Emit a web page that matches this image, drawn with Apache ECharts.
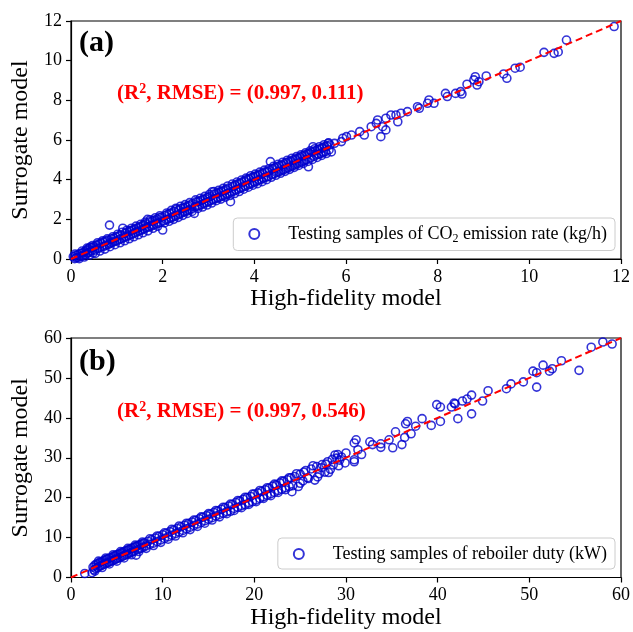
<!DOCTYPE html>
<html>
<head>
<meta charset="utf-8">
<script src="https://cdn.jsdelivr.net/npm/echarts@6/dist/echarts.min.js"></script>
<style>html,body{margin:0;padding:0;background:#fff}#c{width:633px;height:632px}</style>
</head>
<body>
<div id="c"></div>
<script>
// ---- Data ----
var ticksA = [0, 2, 4, 6, 8, 10, 12];
var ticksB = [0, 10, 20, 30, 40, 50, 60];
var labelA = '(a)';
var labelB = '(b)';
var metricsA = ['0.997', '0.111'];
var metricsB = ['0.997', '0.546'];
var parityA = [[0, 0], [12, 12]];
var parityB = [[0, 0], [60, 60]];

// Panel (a): CO2 emission rate, [high-fidelity, surrogate]
var samplesA = [
[0.05,0.12],[0.08,0.02],[0.10,0.18],[0.12,0.06],[0.15,0.22],[0.17,0.10],[0.20,0.28],[0.22,0.14],[0.25,0.31],[0.27,0.19],
[0.30,0.37],[0.32,0.22],[0.34,0.45],[0.36,0.30],[0.38,0.52],[0.40,0.33],[0.42,0.60],[0.44,0.41],[0.46,0.58],[0.48,0.30],
[0.50,0.62],[0.52,0.45],[0.55,0.70],[0.57,0.52],[0.60,0.75],[0.62,0.55],[0.65,0.80],[0.67,0.62],[0.70,0.86],[0.72,0.64],
[0.75,0.90],[0.77,0.70],[0.80,0.95],[0.82,0.74],[0.84,1.71],[0.86,0.80],[0.88,1.02],[0.90,0.84],[0.93,1.05],[0.95,0.88],
[0.98,1.12],[1.00,0.92],[1.03,1.15],[1.05,0.98],[1.08,1.22],[1.10,1.02],[1.13,1.55],[1.15,1.08],[1.18,1.30],[1.20,1.12],
[1.23,1.36],[1.25,1.17],[1.28,1.42],[1.30,1.22],[1.33,1.45],[1.35,1.27],[1.38,1.50],[1.40,1.32],[1.43,1.55],[1.45,1.38],
[1.48,1.60],[1.50,1.42],[1.53,1.65],[1.55,1.47],[1.58,1.72],[1.60,1.52],[1.63,1.78],[1.65,1.58],[1.67,2.00],[1.70,1.62],
[1.72,1.88],[1.75,1.66],[1.78,1.92],[1.80,1.72],[1.83,1.97],[1.85,1.76],[1.88,2.02],[1.90,1.80],[1.93,2.08],[1.95,1.85],
[1.98,2.12],[2.00,1.46],[2.02,1.92],[2.05,2.18],[2.08,1.98],[2.10,2.24],[2.13,2.02],[2.15,2.30],[2.18,2.08],[2.20,2.33],
[2.23,2.12],[2.25,2.40],[2.28,2.18],[2.30,2.52],[2.33,2.22],[2.35,2.46],[2.38,2.28],[2.40,2.55],[2.43,2.34],[2.45,2.58],
[2.48,2.38],[2.50,2.62],[2.53,2.42],[2.55,2.68],[2.58,2.48],[2.60,2.72],[2.63,2.52],[2.65,2.80],[2.69,2.30],[2.70,2.62],
[2.73,2.88],[2.75,2.66],[2.78,2.90],[2.80,2.70],[2.83,2.95],[2.85,2.74],[2.88,3.00],[2.90,2.80],[2.93,3.04],[2.95,2.84],
[2.98,3.10],[3.00,2.90],[3.03,3.15],[3.05,2.94],[3.08,3.39],[3.10,3.00],[3.13,3.28],[3.15,3.04],[3.18,3.32],[3.20,3.08],
[3.23,3.36],[3.25,3.12],[3.28,3.40],[3.30,3.18],[3.33,3.45],[3.35,3.22],[3.38,3.50],[3.40,3.28],[3.43,3.56],[3.45,3.32],
[3.48,2.89],[3.50,3.38],[3.53,3.66],[3.55,3.42],[3.58,3.72],[3.60,3.48],[3.63,3.78],[3.65,3.52],[3.68,3.82],[3.70,3.58],
[3.73,3.88],[3.75,3.62],[3.78,3.92],[3.80,3.68],[3.83,4.00],[3.85,3.72],[3.88,4.04],[3.90,3.78],[3.93,4.10],[3.95,3.82],
[3.98,4.14],[4.00,3.88],[4.03,4.18],[4.05,3.92],[4.08,4.22],[4.10,3.98],[4.13,4.28],[4.15,4.02],[4.18,4.32],[4.20,4.08],
[4.23,4.38],[4.25,4.12],[4.28,4.40],[4.30,4.16],[4.35,4.91],[4.33,4.46],[4.38,4.25],[4.40,4.56],[4.43,4.30],[4.45,4.60],
[4.48,4.35],[4.50,4.65],[4.53,4.40],[4.55,4.70],[4.58,4.44],[4.60,4.74],[4.63,4.50],[4.65,4.80],[4.68,4.54],[4.70,4.86],
[4.73,4.60],[4.75,4.90],[4.78,4.64],[4.80,4.94],[4.83,4.70],[4.85,5.00],[4.88,4.74],[4.90,5.04],[4.93,4.80],[4.95,5.08],
[4.98,4.84],[5.00,5.14],[5.03,4.90],[5.05,5.20],[5.08,4.94],[5.10,5.24],[5.13,5.00],[5.15,5.30],[5.18,4.65],[5.20,5.34],
[5.23,5.10],[5.25,5.40],[5.28,5.66],[5.30,5.18],[5.33,5.45],[5.35,5.24],[5.38,5.52],[5.40,5.28],[5.43,5.56],[5.45,5.32],
[5.48,5.60],[5.50,5.38],[5.53,5.66],[5.55,5.42],[5.58,5.70],[5.61,5.83],[5.63,5.50],[5.65,5.75],[5.75,5.83],[5.90,5.92],
[5.93,6.09],[6.01,6.17],[6.12,6.25],[6.30,6.42],[6.40,6.25],[6.55,6.67],[6.66,6.84],[6.69,7.01],[6.76,6.17],[6.80,6.67],
[6.87,7.10],[6.87,6.51],[6.98,7.26],[7.09,7.26],[7.13,6.92],[7.20,7.35],[7.34,7.43],[7.56,7.68],[7.60,7.60],[7.78,7.85],
[7.81,8.02],[7.92,7.85],[8.17,8.35],[8.21,8.19],[8.39,8.35],[8.50,8.44],[8.53,8.32],[8.64,8.81],[8.79,9.03],[8.82,9.19],
[8.86,8.77],[8.90,8.94],[9.06,9.23],[9.44,9.33],[9.51,9.11],[9.69,9.62],[9.80,9.67],[10.32,10.42],[10.54,10.37],[10.63,10.44],
[10.81,11.04],[11.85,11.72],
[0.09,0.25],[0.18,0.02],[0.24,0.40],[0.29,0.10],[0.35,0.55],[0.41,0.20],[0.47,0.68],[0.53,0.28],[0.58,0.82],[0.63,0.40],
[0.69,0.92],[0.74,0.50],[0.79,1.02],[0.85,0.62],[0.91,1.12],[0.96,0.72],[1.02,1.25],[1.07,0.82],[1.12,1.35],[1.17,0.92],
[1.22,1.45],[1.27,1.02],[1.32,1.55],[1.37,1.12],[1.42,1.66],[1.47,1.22],[1.52,1.75],[1.57,1.32],[1.62,1.86],[1.68,1.42],
[1.73,1.98],[1.79,1.55],[1.84,2.08],[1.89,1.65],[1.94,2.18],[2.04,1.82],[2.09,2.32],[2.14,1.90],[2.19,2.45],[2.24,2.00],
[2.29,2.56],[2.34,2.10],[2.39,2.66],[2.44,2.20],[2.49,2.74],[2.54,2.30],[2.59,2.84],[2.64,2.40],[2.72,2.98],[2.77,2.55],
[2.82,3.06],[2.87,2.62],[2.92,3.16],[2.97,2.72],[3.02,3.26],[3.07,2.82],[3.12,3.40],[3.17,2.94],[3.22,3.46],[3.27,3.02],
[3.32,3.56],[3.37,3.12],[3.42,3.68],[3.47,3.20],[3.52,3.78],[3.57,3.30],[3.62,3.88],[3.67,3.40],[3.72,3.98],[3.77,3.52],
[3.82,4.08],[3.87,3.62],[3.92,4.20],[3.97,3.72],[4.02,4.28],[4.07,3.80],[4.12,4.38],[4.17,3.90],[4.22,4.48],[4.27,4.00],
[4.32,4.55],[4.37,4.12],[4.42,4.68],[4.47,4.22],[4.52,4.78],[4.57,4.32],[4.62,4.88],[4.67,4.42],[4.72,4.98],[4.77,4.52],
[4.82,5.08],[4.87,4.62],[4.92,5.16],[4.97,4.72],[5.02,5.26],[5.07,4.82],[5.12,5.36],[5.17,4.92],[5.22,5.46],[5.27,5.02],
[5.32,5.56],[5.37,5.12],[5.42,5.66],[5.47,5.22],[5.52,5.76],[5.57,5.32],[5.62,5.86],[5.68,5.40]
];

// Panel (b): reboiler duty, [high-fidelity, surrogate]
var samplesB = [
[1.5,1.0],[2.3,1.2],[2.4,2.6],[2.5,1.9],[2.6,3.1],[2.7,2.2],[2.8,3.4],[2.9,2.5],[3.0,3.6],[3.1,2.8],
[3.2,3.9],[3.3,3.0],[3.4,4.0],[3.5,3.2],[3.6,4.3],[3.7,3.4],[3.8,4.5],[3.9,3.6],[4.0,4.7],[4.1,3.8],
[4.2,4.9],[4.3,4.0],[4.4,5.0],[4.5,4.2],[4.6,5.3],[4.7,4.4],[4.8,5.5],[4.9,4.6],[5.0,5.7],[5.1,4.8],
[5.2,5.9],[5.3,5.0],[5.4,6.1],[5.5,5.2],[5.6,6.3],[5.7,5.4],[5.8,6.5],[5.9,5.6],[6.0,6.7],[6.1,5.8],
[6.2,6.9],[6.3,6.0],[6.4,7.1],[6.5,6.2],[6.6,7.3],[6.7,6.4],[6.8,7.5],[6.9,6.6],[7.0,7.7],[7.1,5.6],
[7.2,7.9],[7.3,7.0],[7.4,8.1],[7.5,7.2],[7.6,8.3],[7.7,7.4],[7.8,8.5],[7.9,7.6],[8.0,8.7],[8.2,7.9],
[8.4,9.1],[8.6,8.3],[8.8,9.5],[9.0,8.6],[9.2,9.9],[9.4,9.0],[9.6,10.3],[9.8,9.4],[10.0,10.7],[10.2,9.8],
[10.4,11.1],[10.6,10.2],[10.8,11.5],[11.0,10.6],[11.2,11.9],[11.4,11.0],[11.6,12.3],[11.8,11.4],[12.0,12.7],[12.2,11.8],
[12.4,13.1],[12.6,12.2],[12.8,13.5],[13.0,12.6],[13.2,13.9],[13.4,13.0],[13.6,14.3],[13.8,13.4],[14.0,14.7],[14.2,13.8],
[14.4,15.1],[14.6,14.2],[14.8,15.5],[15.0,14.6],[15.2,15.9],[15.4,15.0],[15.6,16.3],[15.8,15.4],[16.0,16.7],[16.2,15.8],
[16.4,17.1],[16.6,16.1],[16.8,17.5],[17.0,16.5],[17.2,17.9],[17.4,16.6],[17.6,18.3],[17.8,17.3],[18.0,18.8],[18.2,17.6],
[18.4,19.2],[18.6,18.0],[18.8,19.6],[19.0,18.2],[19.2,20.0],[19.4,18.7],[19.6,20.3],[19.8,19.0],[20.0,20.9],[20.2,19.4],
[20.4,21.2],[20.6,19.8],[20.8,21.6],[21.0,20.2],[21.2,22.0],[21.4,20.6],[21.6,22.4],[21.8,21.0],[22.0,22.9],[22.2,21.3],
[22.4,23.2],[22.6,21.8],[22.8,23.7],[23.0,22.1],[23.2,24.1],[23.4,22.5],[23.6,24.5],[23.8,22.8],[24.0,25.0],[24.1,21.5],
[24.4,25.3],[24.8,22.8],[25.0,25.9],[25.3,24.2],[25.6,26.8],[25.9,24.8],[26.2,27.2],[26.6,24.4],[26.8,27.8],[27.1,26.0],
[27.4,28.3],[27.7,26.4],[28.0,29.0],[28.3,27.1],[28.8,30.7],[28.5,29.6],[29.2,28.0],[29.5,30.2],[29.0,29.9],[29.1,30.8],
[29.9,28.7],[30.0,31.2],[30.9,29.5],[30.9,29.0],[31.7,30.8],[31.3,32.0],[30.9,33.7],[31.1,34.5],[32.6,34.0],[32.9,33.3],
[33.8,32.6],[33.8,33.5],[34.7,34.5],[35.1,32.5],[36.1,33.3],[36.4,35.1],[37.1,36.0],[35.4,36.5],[36.5,38.5],[36.7,39.1],
[37.6,37.9],[38.3,39.8],[39.3,38.1],[40.3,39.1],[39.9,43.3],[40.3,42.7],[41.9,43.5],[41.5,42.7],[41.8,43.7],[42.2,39.8],
[43.7,41.0],[42.7,44.2],[43.2,44.7],[43.7,45.7],[44.9,44.2],[45.5,46.8],[47.5,47.3],[48.0,48.5],[49.35,49.0],[50.8,47.7],
[50.4,51.7],[50.8,51.3],[51.5,53.2],[52.2,51.7],[52.5,52.3],[53.5,54.3],[55.42,51.9],[56.75,57.7],[58.02,59.0],[59.03,58.5],
[2.6,1.6],[3.0,4.1],[3.4,2.5],[3.8,4.9],[4.2,3.4],[4.6,5.7],[5.0,4.1],[5.4,6.5],[5.8,4.9],[6.2,7.3],
[6.6,5.7],[7.0,8.1],[7.4,6.5],[7.8,8.9],[8.2,7.3],[8.6,9.7],[9.0,8.0],[9.4,10.4],[9.8,8.8],[10.2,11.2],
[10.6,9.6],[11.0,12.1],[11.4,10.4],[11.8,12.9],[12.2,11.2],[12.6,13.6],[13.0,12.0],[13.4,14.4],[13.8,12.8],[14.2,15.2],
[14.6,13.6],[15.0,16.0],[15.4,14.4],[15.8,16.8],[16.2,15.2],[16.6,17.6],[17.0,16.0],[17.4,18.4],[17.8,16.8],[18.2,19.3],
[18.6,17.5],[19.0,20.1],[19.4,18.3],[19.8,20.9],[20.2,19.0],[20.6,21.8],[21.0,19.8],[21.4,22.5],[21.8,20.5],[22.2,23.4],
[22.6,21.3],[23.0,24.2],[23.4,22.0],[23.8,25.0],[24.2,23.0],[24.6,26.0],[25.0,23.6],[25.4,26.4],[25.8,25.0],[26.4,28.0],
[26.9,25.2],[27.3,27.5],[27.8,28.4],[28.1,26.3],[28.6,28.2],[29.3,29.4]
];

var labelTextA = 'Testing samples of CO{sub|2} emission rate (kg/h)';
var labelTextB = 'Testing samples of reboiler duty (kW)';
var xName = 'High-fidelity model';
var yName = 'Surrogate model';

// ---- Chart ----
var FONT = "'Liberation Serif', 'Times New Roman', serif";
var chart = echarts.init(document.getElementById('c'), null, {renderer: 'canvas'});

function valueAxis(idx, ticks, isX) {
  var n = ticks.length;
  return {
    type: 'value', gridIndex: idx,
    min: ticks[0], max: ticks[n - 1], interval: ticks[1] - ticks[0],
    name: isX ? xName : yName,
    nameLocation: 'middle',
    nameGap: isX ? 28 : 35,
    nameTextStyle: {fontFamily: FONT, fontSize: 24, color: '#000'},
    axisLine: {show: true, onZero: false, lineStyle: {color: '#000', width: 1.2}},
    axisTick: {show: true, inside: false, length: 5, lineStyle: {color: '#000', width: 1.2}},
    axisLabel: {fontFamily: FONT, fontSize: 18, color: '#000', margin: 9},
    splitLine: {show: false}
  };
}

function scatter(idx, name, data) {
  return {
    type: 'scatter', name: name, xAxisIndex: idx, yAxisIndex: idx,
    data: data, symbol: 'circle', symbolSize: 8,
    itemStyle: {color: 'rgba(0,0,0,0)', borderColor: '#0000cd', borderWidth: 1.6},
    emphasis: {disabled: true}, silent: true, animation: false, z: 2
  };
}

function parity(idx, data) {
  return {
    type: 'line', xAxisIndex: idx, yAxisIndex: idx, data: data,
    symbol: 'none', silent: true, animation: false, z: 5,
    lineStyle: {color: '#ff0000', width: 2, type: [7, 4]}
  };
}

function legend(name, top) {
  return {
    data: [name], right: 18, top: top,
    orient: 'horizontal',
    padding: [7, 8, 6, 15],
    itemWidth: 20, itemHeight: 10,
    backgroundColor: '#fff',
    borderColor: '#cccccc', borderWidth: 1, borderRadius: 4,
    selectedMode: false,
    textStyle: {
      fontFamily: FONT, fontSize: 18, color: '#000', padding: [0, 0, 0, 19],
      rich: {sub: {fontFamily: FONT, fontSize: 12, color: '#000', verticalAlign: 'bottom', padding: [9, 0, 0, 0]}}
    }
  };
}

function metricText(m) {
  return '(R{sup|2}, RMSE) = (' + m[0] + ', ' + m[1] + ')';
}

var redRich = {sup: {fontFamily: FONT, fontSize: 14, fontWeight: 'bold', color: '#ff0000', padding: [0, 0, 10, 0]}};

chart.setOption({
  backgroundColor: '#fff',
  animation: false,
  grid: [
    {left: 71, top: 21, width: 554, height: 238, show: true, borderColor: '#000', borderWidth: 1.2, backgroundColor: 'transparent'},
    {left: 71, top: 338, width: 554, height: 239.5, show: true, borderColor: '#000', borderWidth: 1.2, backgroundColor: 'transparent'}
  ],
  xAxis: [valueAxis(0, ticksA, true), valueAxis(1, ticksB, true)],
  yAxis: [valueAxis(0, ticksA, false), valueAxis(1, ticksB, false)],
  legend: [legend(labelTextA, 218), legend(labelTextB, 538)],
  title: [
    {text: labelA, left: 79, top: 28, padding: 0, textStyle: {fontFamily: FONT, fontSize: 30, fontWeight: 'bold', color: '#000'}},
    {text: labelB, left: 79, top: 347, padding: 0, textStyle: {fontFamily: FONT, fontSize: 30, fontWeight: 'bold', color: '#000'}},
    {text: metricText(metricsA), left: 117, top: 82, padding: 0, textStyle: {fontFamily: FONT, fontSize: 21, fontWeight: 'bold', color: '#ff0000', rich: redRich}},
    {text: metricText(metricsB), left: 117, top: 400, padding: 0, textStyle: {fontFamily: FONT, fontSize: 21, fontWeight: 'bold', color: '#ff0000', rich: redRich}}
  ],
  series: [
    scatter(0, labelTextA, samplesA),
    parity(0, parityA),
    scatter(1, labelTextB, samplesB),
    parity(1, parityB)
  ]
});
</script>
</body>
</html>
